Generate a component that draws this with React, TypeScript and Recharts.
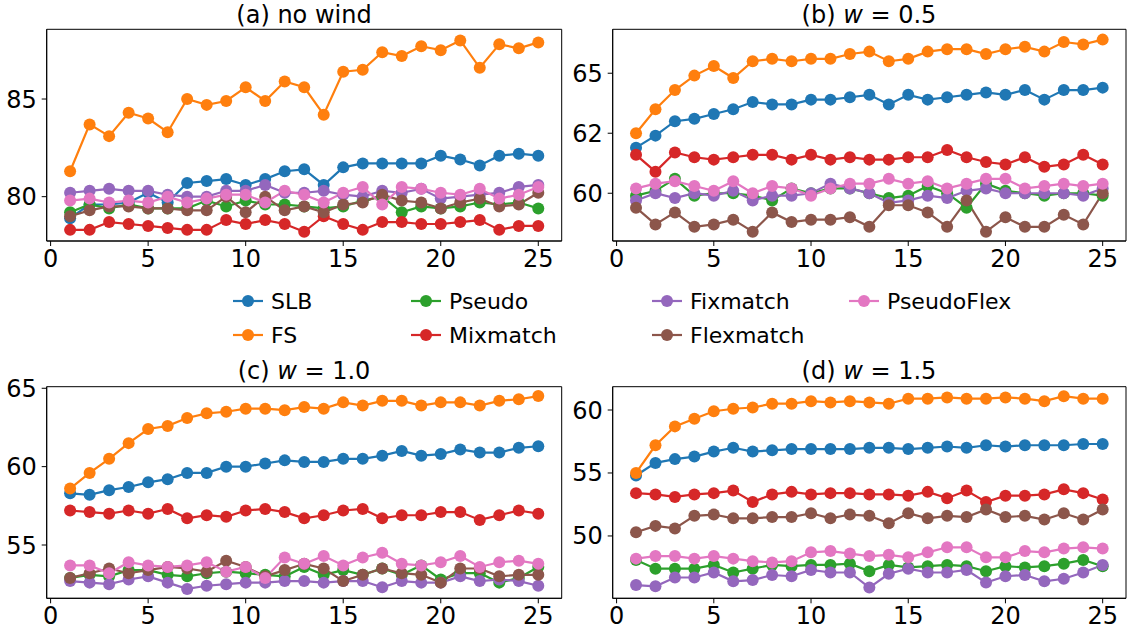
import React from 'react';
import { LineChart, Line, XAxis, YAxis, ReferenceArea } from 'recharts';

// x values shared by all four panels
const epochs = [1, 2, 3, 4, 5, 6, 7, 8, 9, 10, 11, 12, 13, 14, 15, 16, 17, 18, 19, 20, 21, 22, 23, 24, 25];
const xTicks = [0, 5, 10, 15, 20, 25];

const methods = ['SLB', 'FS', 'Pseudo', 'Mixmatch', 'Fixmatch', 'Flexmatch', 'PseudoFlex'];
const colors = ['#1f77b4', '#ff7f0e', '#2ca02c', '#d62728', '#9467bd', '#8c564b', '#e377c2'];

// (a) no wind
const aSLB = [78.9, 79.6, 79.6, 79.7, 80.2, 79.7, 80.7, 80.8, 80.9, 80.6, 80.9, 81.3, 81.4, 80.6, 81.5, 81.7, 81.7, 81.7, 81.7, 82.1, 81.9, 81.6, 82.1, 82.2, 82.1];
const aFS = [81.3, 83.7, 83.1, 84.3, 84.0, 83.3, 85.0, 84.7, 84.9, 85.6, 84.9, 85.9, 85.6, 84.2, 86.4, 86.5, 87.4, 87.2, 87.7, 87.5, 88.0, 86.6, 87.8, 87.6, 87.9];
const aPseudo = [79.2, 79.6, 79.4, 79.6, 79.4, 79.4, 79.4, 79.8, 79.5, 79.8, 79.6, 79.6, 79.5, 79.4, 79.5, 79.8, 80.0, 79.2, 79.5, 79.4, 79.5, 79.7, 79.6, 79.7, 79.4];
const aMixmatch = [78.3, 78.3, 78.7, 78.6, 78.5, 78.4, 78.3, 78.3, 78.8, 78.6, 78.8, 78.6, 78.2, 79.0, 78.6, 78.3, 78.7, 78.7, 78.6, 78.6, 78.7, 78.8, 78.3, 78.5, 78.5];
const aFixmatch = [80.2, 80.3, 80.4, 80.3, 80.3, 80.1, 80.0, 80.0, 80.3, 80.3, 80.6, 80.2, 80.2, 80.3, 80.1, 80.0, 80.3, 80.2, 80.4, 79.9, 80.0, 80.1, 80.2, 80.5, 80.6];
const aFlexmatch = [79.0, 79.3, 79.5, 79.5, 79.4, 79.4, 79.3, 79.3, 80.0, 79.2, 80.0, 79.3, 79.5, 79.2, 79.6, 79.7, 80.1, 79.8, 79.7, 79.4, 79.7, 79.9, 79.5, 79.6, 80.2];
const aPseudoFlex = [79.8, 79.9, 79.7, 79.8, 79.7, 80.0, 79.7, 79.9, 80.1, 80.1, 79.7, 80.3, 80.1, 79.7, 80.2, 80.5, 79.6, 80.5, 80.4, 80.2, 80.1, 80.4, 79.9, 80.1, 80.5];

// (b) w = 0.5
const bSLB = [61.9, 62.4, 63.0, 63.1, 63.3, 63.5, 63.8, 63.7, 63.7, 63.9, 63.9, 64.0, 64.1, 63.7, 64.1, 63.9, 64.0, 64.1, 64.2, 64.1, 64.3, 63.9, 64.3, 64.3, 64.4];
const bFS = [62.5, 63.5, 64.3, 64.9, 65.3, 64.8, 65.5, 65.6, 65.5, 65.6, 65.6, 65.8, 65.9, 65.5, 65.6, 65.9, 66.0, 66.0, 65.8, 66.0, 66.1, 65.9, 66.3, 66.2, 66.4];
const bPseudo = [59.9, 60.1, 60.6, 59.9, 60.0, 60.0, 59.9, 59.7, 60.2, 60.0, 60.2, 60.2, 60.0, 59.8, 59.9, 60.3, 60.0, 59.4, 60.4, 60.1, 60.0, 59.9, 60.0, 60.0, 59.9];
const bMixmatch = [61.6, 60.9, 61.7, 61.5, 61.4, 61.5, 61.6, 61.6, 61.4, 61.6, 61.4, 61.5, 61.4, 61.4, 61.5, 61.5, 61.8, 61.5, 61.3, 61.2, 61.5, 61.1, 61.2, 61.6, 61.2];
const bFixmatch = [59.7, 60.0, 59.8, 60.0, 59.9, 60.1, 59.7, 59.9, 59.9, 60.0, 60.4, 60.2, 60.0, 59.6, 59.7, 59.9, 59.8, 60.1, 60.2, 60.0, 60.0, 60.0, 60.0, 59.9, 60.2];
const bFlexmatch = [59.4, 58.7, 59.2, 58.6, 58.7, 58.9, 58.4, 59.2, 58.8, 58.9, 58.9, 59.0, 58.6, 59.5, 59.5, 59.2, 58.6, 59.7, 58.4, 59.0, 58.6, 58.6, 59.1, 58.7, 60.0];
const bPseudoFlex = [60.2, 60.4, 60.5, 60.3, 60.1, 60.5, 60.0, 60.3, 60.2, 59.9, 60.2, 60.4, 60.4, 60.6, 60.4, 60.5, 60.2, 60.4, 60.6, 60.6, 60.2, 60.3, 60.4, 60.3, 60.4];

// (c) w = 1.0
const cSLB = [58.3, 58.2, 58.5, 58.7, 59.0, 59.2, 59.6, 59.6, 60.0, 60.0, 60.2, 60.4, 60.3, 60.3, 60.5, 60.5, 60.7, 61.0, 60.7, 60.8, 61.1, 60.9, 60.9, 61.2, 61.3];
const cFS = [58.6, 59.6, 60.5, 61.5, 62.4, 62.6, 63.1, 63.4, 63.5, 63.7, 63.7, 63.6, 63.8, 63.7, 64.1, 63.9, 64.2, 64.2, 63.9, 64.1, 64.1, 63.9, 64.2, 64.3, 64.5];
const cPseudo = [52.9, 53.1, 53.0, 53.4, 53.4, 53.1, 53.0, 53.2, 53.3, 53.2, 53.1, 53.0, 53.6, 53.1, 53.4, 53.1, 53.5, 53.1, 53.7, 52.8, 53.2, 53.2, 52.6, 52.9, 53.6];
const cMixmatch = [57.2, 57.1, 57.0, 57.2, 57.0, 57.3, 56.7, 56.9, 56.8, 57.2, 57.3, 57.1, 56.7, 56.9, 57.2, 57.3, 56.7, 56.9, 56.9, 57.1, 57.1, 56.6, 56.9, 57.2, 57.0];
const cFixmatch = [52.7, 52.6, 52.5, 52.8, 53.0, 52.6, 52.2, 52.4, 52.5, 52.6, 52.6, 52.7, 52.7, 52.6, 52.7, 52.7, 52.3, 52.7, 52.6, 52.6, 53.0, 52.7, 52.8, 52.7, 52.4];
const cFlexmatch = [52.9, 53.2, 53.5, 53.2, 53.4, 53.6, 53.5, 53.3, 54.0, 53.6, 53.0, 53.4, 53.8, 53.5, 52.7, 53.1, 53.5, 53.2, 53.1, 52.6, 53.5, 53.5, 53.0, 53.1, 53.1];
const cPseudoFlex = [53.7, 53.7, 53.2, 53.9, 53.7, 53.6, 53.7, 53.9, 53.3, 53.6, 52.9, 54.2, 53.8, 54.3, 53.7, 54.2, 54.5, 53.8, 53.7, 53.9, 54.3, 53.6, 53.9, 54.0, 53.8];

// (d) w = 1.5
const dSLB = [54.8, 55.8, 56.1, 56.3, 56.7, 57.0, 56.7, 56.8, 56.9, 56.9, 56.9, 56.9, 57.0, 57.0, 56.9, 57.0, 57.1, 57.0, 57.2, 57.1, 57.2, 57.2, 57.2, 57.3, 57.3];
const dFS = [55.0, 57.2, 58.7, 59.3, 59.9, 60.1, 60.2, 60.5, 60.5, 60.7, 60.6, 60.7, 60.6, 60.5, 60.9, 60.9, 61.0, 60.9, 60.9, 61.0, 60.9, 60.7, 61.1, 60.9, 60.9];
const dPseudo = [48.1, 47.4, 47.4, 47.4, 47.7, 47.1, 47.4, 47.7, 47.6, 47.7, 47.7, 47.8, 47.2, 47.7, 47.5, 47.6, 47.7, 47.6, 47.2, 47.6, 47.5, 47.6, 47.8, 48.1, 47.6];
const dMixmatch = [53.4, 53.3, 53.1, 53.3, 53.4, 53.6, 52.7, 53.3, 53.5, 53.3, 53.4, 53.4, 53.3, 53.3, 53.2, 53.5, 53.0, 53.6, 52.7, 53.2, 53.2, 53.3, 53.7, 53.4, 52.9];
const dFixmatch = [46.1, 46.0, 46.7, 46.7, 47.1, 46.4, 46.5, 46.9, 46.8, 47.3, 47.1, 47.1, 45.9, 47.0, 47.4, 47.1, 47.1, 47.3, 46.3, 46.8, 46.9, 46.4, 46.6, 47.1, 47.7];
const dFlexmatch = [50.3, 50.8, 50.6, 51.6, 51.7, 51.4, 51.4, 51.5, 51.5, 51.8, 51.4, 51.7, 51.6, 51.0, 51.8, 51.4, 51.6, 51.5, 52.1, 51.5, 51.6, 51.3, 51.8, 51.3, 52.1];
const dPseudoFlex = [48.2, 48.4, 48.4, 48.2, 48.4, 48.2, 48.0, 47.9, 48.0, 48.7, 48.8, 48.6, 48.4, 48.5, 48.3, 48.7, 49.1, 49.1, 48.3, 48.3, 48.8, 48.7, 49.0, 49.1, 49.0];

const FONT = 'DejaVu Sans, sans-serif';
const X_DOMAIN = [-0.2, 26.2];

// matplotlib-style "%.0f" rounding (half to even), so 62.5 shows as 62
const fmtTick = (v: number) => {
  const f = Math.floor(v);
  const d = v - f;
  const r = d > 0.5 ? f + 1 : d < 0.5 ? f : (f % 2 === 0 ? f : f + 1);
  return String(r);
};

type Box = { left: number; top: number; width: number; height: number };
type Plot = { left: number; top: number; right: number; bottom: number };

const Panel = ({ box, plot, domain, yTicks, series }: { box: Box; plot: Plot; domain: number[]; yTicks: number[]; series: number[][] }) => {
  const data = epochs.map((e, i) => {
    const row: any = { epoch: e };
    methods.forEach((m, k) => { row[m] = series[k][i]; });
    return row;
  });
  const margin = { top: plot.top - box.top, right: box.left + box.width - plot.right, bottom: 0, left: 0 };
  const xH = box.top + box.height - plot.bottom;
  const tickStyle = { fill: '#000', fontSize: 24, fontFamily: FONT };
  return (
    <div style={{ position: 'absolute', left: box.left, top: box.top }}>
      <LineChart width={box.width} height={box.height} data={data} margin={margin}>
        <XAxis dataKey="epoch" type="number" domain={X_DOMAIN} ticks={xTicks} allowDataOverflow
          height={xH} stroke="#000" tickSize={5} tickMargin={4} tick={tickStyle} />
        <YAxis type="number" domain={domain} ticks={yTicks} allowDataOverflow width={plot.left - box.left}
          stroke="#000" tickSize={5} tickMargin={5} tick={tickStyle} tickFormatter={fmtTick} />
        {/* axes frame */}
        <ReferenceArea x1={X_DOMAIN[0]} x2={X_DOMAIN[1]} y1={domain[0]} y2={domain[1]}
          fill="none" fillOpacity={0} stroke="#000" strokeWidth={1} ifOverflow="visible" />
        {methods.map((m, k) => (
          <Line key={m} type="linear" dataKey={m} stroke={colors[k]} strokeWidth={2.2}
            dot={{ r: 6, fill: colors[k], stroke: colors[k], strokeWidth: 0 }}
            activeDot={false} isAnimationActive={false} />
        ))}
      </LineChart>
    </div>
  );
};

const legendCols = [233, 411, 652, 849];

export default function App() {
  return (
    <div style={{ position: 'absolute', left: 0, top: 0, width: 1127, height: 629, background: '#fff', overflow: 'hidden', fontFamily: FONT }}>
      <Panel box={{ left: 0, top: 0, width: 570, height: 290 }} plot={{ left: 46.7, top: 29.3, right: 561.7, bottom: 241 }}
        domain={[77.73, 88.57]} yTicks={[80, 85]}
        series={[aSLB, aFS, aPseudo, aMixmatch, aFixmatch, aFlexmatch, aPseudoFlex]} />
      <Panel box={{ left: 560, top: 0, width: 567, height: 290 }} plot={{ left: 612.7, top: 29.3, right: 1126, bottom: 241 }}
        domain={[58.01, 66.83]} yTicks={[60, 62.5, 65]}
        series={[bSLB, bFS, bPseudo, bMixmatch, bFixmatch, bFlexmatch, bPseudoFlex]} />
      <Panel box={{ left: 0, top: 350, width: 570, height: 279 }} plot={{ left: 46.7, top: 386.7, right: 561.7, bottom: 598.3 }}
        domain={[51.6, 65.1]} yTicks={[55, 60, 65]}
        series={[cSLB, cFS, cPseudo, cMixmatch, cFixmatch, cFlexmatch, cPseudoFlex]} />
      <Panel box={{ left: 560, top: 350, width: 567, height: 279 }} plot={{ left: 612.7, top: 386.7, right: 1126, bottom: 598.3 }}
        domain={[45.05, 61.85]} yTicks={[50, 55, 60]}
        series={[dSLB, dFS, dPseudo, dMixmatch, dFixmatch, dFlexmatch, dPseudoFlex]} />
      <svg width={1127} height={629} style={{ position: 'absolute', left: 0, top: 0, pointerEvents: 'none' }}>
        <g fontFamily={FONT} fontSize={24} fill="#000" textAnchor="middle">
          <text x={304} y={23}>(a) no wind</text>
          <text x={869} y={23}>(b) <tspan fontStyle="italic">w</tspan> = 0.5</text>
          <text x={304} y={379}>(c) <tspan fontStyle="italic">w</tspan> = 1.0</text>
          <text x={869} y={379}>(d) <tspan fontStyle="italic">w</tspan> = 1.5</text>
        </g>
        {methods.map((m, k) => {
          const x0 = legendCols[Math.floor(k / 2)];
          const y = k % 2 === 0 ? 301 : 335;
          return (
            <g key={m}>
              <line x1={x0} x2={x0 + 30} y1={y} y2={y} stroke={colors[k]} strokeWidth={2.2} />
              <circle cx={x0 + 15} cy={y} r={6} fill={colors[k]} />
              <text x={x0 + 38} y={y + 8} fontFamily={FONT} fontSize={22} fill="#000">{m}</text>
            </g>
          );
        })}
      </svg>
    </div>
  );
}
